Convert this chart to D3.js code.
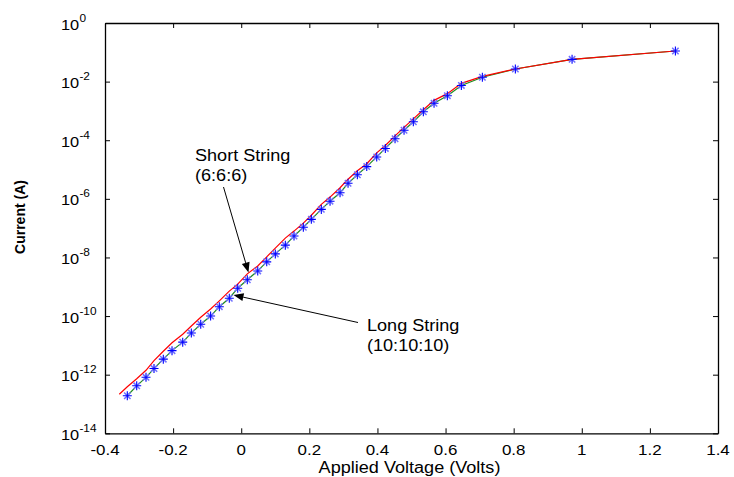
<!DOCTYPE html>
<html>
<head>
<meta charset="utf-8">
<script src="https://cdn.jsdelivr.net/npm/d3@7"></script>
<style>
  html, body { margin: 0; padding: 0; background: #fff; }
  svg { display: block; font-family: Arial, "Liberation Sans", sans-serif; }
</style>
</head>
<body>
<svg id="chart" width="734" height="477"></svg>
<script>
// ---- data ----
const voltageLong = [-0.3345,-0.3069,-0.2796,-0.2561,-0.2288,-0.2032,-0.1718,-0.1465,-0.1189,-0.0899,
  -0.0643,-0.035,-0.0103,0.0179,0.0485,0.0749,0.1001,0.1295,0.155,0.1824,
  0.2059,0.2352,0.2608,0.2902,0.3137,0.341,0.3686,0.3979,0.4232,0.4517,
  0.4781,0.5054,0.5348,0.5662,0.6053,0.6464,0.7081,0.805,0.9715,1.2749];
const currentLong = [1.91e-13,4.17e-13,8.13e-13,1.62e-12,3.39e-12,6.61e-12,1.29e-11,2.63e-11,5.25e-11,1.0e-10,
  2.09e-10,4.07e-10,8.91e-10,1.74e-9,3.47e-9,7.08e-9,1.32e-8,2.63e-8,5.37e-8,1.07e-7,
  2.0e-7,4.37e-7,8.32e-7,1.62e-6,3.39e-6,6.61e-6,1.26e-5,2.69e-5,5.25e-5,1.12e-4,
  2.19e-4,4.27e-4,9.33e-4,1.82e-3,3.31e-3,7.41e-3,1.41e-2,2.69e-2,5.75e-2,0.111];
const voltageShort = [-0.358,-0.3345,-0.3069,-0.2796,-0.2561,-0.2288,-0.2032,-0.1718,-0.1465,-0.1189,-0.0899,
  -0.0643,-0.035,-0.0103,0.0179,0.0485,0.0749,0.1001,0.1295,0.155,0.1824,
  0.2059,0.2352,0.2608,0.2902,0.3137,0.341,0.3686,0.3979,0.4232,0.4517,
  0.4781,0.5054,0.5348,0.5662,0.6053,0.6464,0.7081,0.805,0.9715,1.2749];
const currentShort = [2.14e-13,3.89e-13,7.24e-13,1.41e-12,3.02e-12,6.31e-12,1.23e-11,2.40e-11,4.57e-11,9.12e-11,1.74e-10,
  3.31e-10,7.08e-10,1.23e-9,2.75e-9,5.13e-9,1.05e-8,2.09e-8,4.57e-8,7.94e-8,1.48e-7,
  2.75e-7,6.46e-7,1.15e-6,2.40e-6,4.68e-6,9.12e-6,1.58e-5,3.72e-5,6.61e-5,1.41e-4,
  2.75e-4,5.37e-4,1.10e-3,2.29e-3,3.89e-3,8.71e-3,1.51e-2,2.69e-2,5.75e-2,0.111];
const xTickValues = [-0.4,-0.2,0,0.2,0.4,0.6,0.8,1,1.2,1.4];
const xTickLabels = ["-0.4","-0.2","0","0.2","0.4","0.6","0.8","1","1.2","1.4"];
const yTickValues = [1,1e-2,1e-4,1e-6,1e-8,1e-10,1e-12,1e-14];
const yTickExponents = ["0","-2","-4","-6","-8","-10","-12","-14"];
const xLabel = "Applied Voltage (Volts)";
const yLabel = "Current (A)";
const shortLabel = ["Short String", "(6:6:6)"];
const longLabel = ["Long String", "(10:10:10)"];

// ---- layout ----
const L = 105, R = 718, T = 23, B = 433.3;
const SX = 1.13; // horizontal text stretch seen in the reference

const svg = d3.select("#chart");
const x = d3.scaleLinear().domain([-0.4, 1.4]).range([L, R]);
const y = d3.scaleLog().domain([1e-14, 1]).range([B, T]);

// axes with inward ticks on all four sides
const tick = 5;
function styleAxis(g) {
  g.selectAll("path").attr("stroke", "#000").attr("stroke-width", 1.3);
  g.selectAll("line").attr("stroke", "#000").attr("stroke-width", 1);
  g.selectAll("text").remove();
}
svg.append("g").attr("transform", `translate(0,${B})`)
  .call(d3.axisBottom(x).tickValues(xTickValues).tickSizeInner(-tick).tickSizeOuter(0)).call(styleAxis);
svg.append("g").attr("transform", `translate(0,${T})`)
  .call(d3.axisTop(x).tickValues(xTickValues).tickSizeInner(-tick).tickSizeOuter(0)).call(styleAxis);
svg.append("g").attr("transform", `translate(${L},0)`)
  .call(d3.axisLeft(y).tickValues(yTickValues).tickSizeInner(-tick).tickSizeOuter(0)).call(styleAxis);
svg.append("g").attr("transform", `translate(${R},0)`)
  .call(d3.axisRight(y).tickValues(yTickValues).tickSizeInner(-tick).tickSizeOuter(0)).call(styleAxis);

// x tick labels
svg.append("g").selectAll("text").data(xTickValues).join("text")
  .attr("transform", (d) => `translate(${x(d)},455) scale(${SX},1)`)
  .attr("text-anchor", "middle")
  .attr("font-size", 15)
  .attr("fill", "#000")
  .text((d, i) => xTickLabels[i]);

// y tick labels: 10^n
const yl = svg.append("g").selectAll("g").data(yTickValues).join("g")
  .attr("transform", (d) => `translate(61,${y(d)}) scale(${SX},1)`);
yl.append("text").attr("x", 0).attr("y", 6.5).attr("font-size", 14.5).attr("fill", "#000").text("10");
yl.append("text").attr("x", 16.3).attr("y", -1.5).attr("font-size", 10.5).attr("fill", "#000")
  .text((d, i) => yTickExponents[i]);

// axis labels
svg.append("text")
  .attr("transform", `translate(${(L + R) / 2 - 2},472.5) scale(${SX},1)`)
  .attr("text-anchor", "middle").attr("font-size", 16).attr("fill", "#000").text(xLabel);
svg.append("text")
  .attr("transform", `translate(25,217) rotate(-90)`)
  .attr("text-anchor", "middle").attr("font-size", 14).attr("font-weight", "bold").attr("fill", "#000").text(yLabel);

// series
const longPts = voltageLong.map((v, i) => [v, currentLong[i]]);
const shortPts = voltageShort.map((v, i) => [v, currentShort[i]]);
const line = d3.line().x((d) => x(d[0])).y((d) => y(d[1]));

svg.append("path").datum(longPts).attr("d", line)
  .attr("fill", "none").attr("stroke", "#1e8c1e").attr("stroke-width", 1.2);
svg.append("path").datum(shortPts).attr("d", line)
  .attr("fill", "none").attr("stroke", "#ff0000").attr("stroke-width", 1.2);

// asterisk markers
const mk = svg.append("g").selectAll("g").data(longPts).join("g")
  .attr("transform", (d) => `translate(${x(d[0])},${y(d[1])})`);
mk.append("path").attr("d", "M-3.2,-3.2L3.2,3.2M-3.2,3.2L3.2,-3.2")
  .attr("stroke", "#7070ff").attr("stroke-width", 1.5).attr("fill", "none");
mk.append("path").attr("d", "M-4.5,0H4.5M0,-4.5V4.5")
  .attr("stroke", "#0000ff").attr("stroke-width", 1.1).attr("fill", "none");

// annotations
function arrow(x1, y1, x2, y2) {
  const ang = Math.atan2(y2 - y1, x2 - x1);
  const len = 10, hw = 4;
  const bx = x2 - len * Math.cos(ang), by = y2 - len * Math.sin(ang);
  svg.append("line").attr("x1", x1).attr("y1", y1).attr("x2", bx).attr("y2", by)
    .attr("stroke", "#000").attr("stroke-width", 1);
  const px = -Math.sin(ang) * hw, py = Math.cos(ang) * hw;
  svg.append("path")
    .attr("d", `M${x2},${y2}L${bx + px},${by + py}L${bx - px},${by - py}Z`)
    .attr("fill", "#000");
}
function label(lines, lx, ly) {
  lines.forEach((t, i) => {
    svg.append("text")
      .attr("transform", `translate(${lx},${ly + i * 19.5}) scale(${SX},1)`)
      .attr("font-size", 16).attr("fill", "#000").text(t);
  });
}
label(shortLabel, 195, 161);
arrow(223.5, 187, 248.5, 272.5);
label(longLabel, 367, 331);
arrow(358, 322.5, 233.5, 295);
</script>
</body>
</html>
